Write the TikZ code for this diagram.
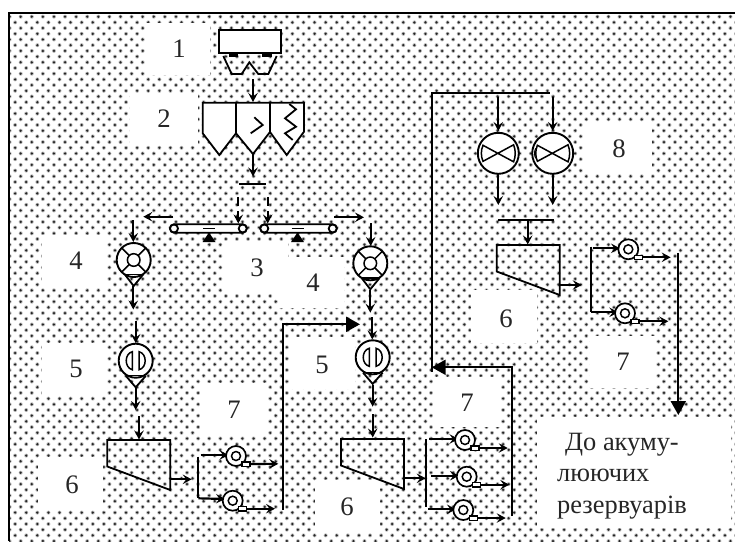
\documentclass[tikz,border=0pt]{standalone}
\usepackage{fontspec}
\setmainfont{Liberation Serif}
\usetikzlibrary{arrows.meta,patterns}
\pgfdeclarepatterninherentlycolored{dotground}{\pgfpointorigin}{\pgfqpoint{14pt}{14pt}}{\pgfqpoint{11.09pt}{11.4pt}}{%
  \pgfsetfillcolor{black!28}%
  \pgfpathcircle{\pgfqpoint{9.6pt}{11.3pt}}{2pt}\pgfpathcircle{\pgfqpoint{4.05pt}{5.6pt}}{2pt}\pgfusepath{fill}%
  \pgfsetfillcolor{black!85}%
  \pgfpathcircle{\pgfqpoint{9.6pt}{11.3pt}}{1.25pt}\pgfpathcircle{\pgfqpoint{4.05pt}{5.6pt}}{1.25pt}\pgfusepath{fill}%
}
\tikzset{
  part/.style={line width=1.8pt,draw=black,line join=miter},
  flowarrow/.style={line width=2.2pt,-{Stealth[length=9pt,width=9.5pt,inset=3.5pt]}},
  bigarrow/.style={line width=2.2pt,-{Triangle[length=14pt,width=15pt]}},
  plainline/.style={line width=2.1pt},
  dashedflow/.style={line width=1.9pt,dash pattern=on 9pt off 5pt,-{Stealth[length=9pt,width=9.5pt,inset=3.5pt]}},
  pump/.style={circle,draw=black,fill=white,line width=1.9pt,minimum size=34pt,inner sep=0pt},
  mixer/.style={circle,draw=black,fill=white,line width=1.9pt,minimum size=41pt,inner sep=0pt},
  fan/.style={circle,draw=black,fill=white,line width=1.7pt,minimum size=20pt,inner sep=0pt},
  fancore/.style={circle,draw=black,fill=white,line width=1.5pt,minimum size=9pt,inner sep=0pt},
  label/.style={font=\fontsize{26.7}{26.7}\selectfont,inner sep=0pt,text=black!85},
  paper/.style={fill=white,draw=none},
}
\newcommand{\flow}[3]{\coordinate (#1a) at (#2); \coordinate (#1b) at (#3); \draw[flowarrow] (#1a) -- (#1b);}
\newcommand{\fanunit}[3]{% name, x, y
  \node[fan] (#1) at (#2,#3) {};
  \node[fancore] (#1c) at (#2,#3) {};
  \draw[part,line width=1.4pt,fill=white] (#2+6,#3+6) rectangle (#2+14,#3+10.3);
  \coordinate (#1o) at (#2+14,#3+8);
}
\newcommand{\pumpfour}[3]{% name,x,y
  \node[pump] (#1) at (#2,#3) {};
  \draw[part] (#2-8.7,#3+14.7) -- (#2,#3+26) -- (#2+9.3,#3+14.7);
  \draw[part,line width=1.5pt] (#2-9.5,#3+14.5) -- (#2+9.5,#3+14.5);
  \foreach \a in {45,135,225,315} \draw[part,line width=1.5pt] (#2,#3) ++(\a:-6.3) -- ++(\a:-10.5);
  \node[circle,draw=black,fill=white,line width=1.5pt,minimum size=12.6pt,inner sep=0pt] (#1c) at (#2,#3) {};
}
\newcommand{\pumpfive}[3]{% name,x,y
  \node[pump] (#1) at (#2,#3) {};
  \draw[part] (#2-9.7,#3+15.3) -- (#2,#3+26.6) -- (#2+10,#3+15.3);
  \draw[part,line width=1.5pt] (#2-9.5,#3+15) -- (#2+9.5,#3+15);
  \draw[part,line width=1.5pt] (#2-3.4,#3-9) .. controls (#2-11.5,#3-7) and (#2-11.5,#3+7) .. (#2-3.4,#3+9) -- cycle;
  \draw[part,line width=1.5pt] (#2+3.4,#3-9) .. controls (#2+11.5,#3-7) and (#2+11.5,#3+7) .. (#2+3.4,#3+9) -- cycle;
}
\newcommand{\mixerunit}[3]{% name,x,y
  \node[mixer] (#1) at (#2,#3) {};
  \draw[part,line width=1.5pt] (#2-15.3,#3-8) -- (#2+15.3,#3+8.5) .. controls (#2+17.5,#3+3) and (#2+17.5,#3-3) .. (#2+15.3,#3-8.5) -- (#2-15.3,#3+8) .. controls (#2-17.5,#3+3) and (#2-17.5,#3-3) .. (#2-15.3,#3-8) -- cycle;
}
\newcommand{\trap}[2]{% x,y of top left
  \draw[part] (#1,#2) -- (#1+63,#2) -- (#1+63,#2+50) -- (#1,#2+26.5) -- cycle;
}
\begin{document}
\begin{tikzpicture}[x=1pt,y=-1pt]
\useasboundingbox (0,0) rectangle (735,541);
% dotted ground
\fill[pattern=dotground] (9,13) rectangle (735,541);
\draw[line width=2.4pt] (9,541) -- (9,13) -- (735,13);
% white label grounds
\fill[paper] (145,23) rectangle (210,75);
\fill[paper] (130,93) rectangle (198,145);
\fill[paper] (223,242) rectangle (288,293);
\fill[paper] (278,257) rectangle (344,308);
\fill[paper] (42,235) rectangle (107,287);
\fill[paper] (42,343) rectangle (107,395);
\fill[paper] (38,457) rectangle (103,510);
\fill[paper] (290,337) rectangle (355,389);
\fill[paper] (315,480) rectangle (380,532);
\fill[paper] (433,377) rectangle (500,427);
\fill[paper] (471,290) rectangle (537,343);
\fill[paper] (200,383) rectangle (267,435);
\fill[paper] (590,336) rectangle (655,388);
\fill[paper] (584,123) rectangle (652,174);
\fill[paper] (537,417) rectangle (731,528);
% labels
\node[label] (n1) at (179,49) {1};
\node[label] (n2) at (164,119) {2};
\node[label] (n3) at (257,268) {3};
\node[label] (n4r) at (313,283) {4};
\node[label] (n4l) at (76,261) {4};
\node[label] (n5l) at (76,369) {5};
\node[label] (n5r) at (322,365) {5};
\node[label] (n6l) at (72,485) {6};
\node[label] (n6m) at (347,507) {6};
\node[label] (n6t) at (506,319) {6};
\node[label] (n7l) at (234,410) {7};
\node[label] (n7m) at (467,403) {7};
\node[label] (n7r) at (623,362) {7};
\node[label] (n8) at (619,149) {8};
\node[label,anchor=north west,align=left,font=\fontsize{26.4}{31.5}\selectfont] (dest) at (557,433) {\hspace*{8pt}До акуму-\\люючих\\резервуарів};
% feeder 1
\draw[part,fill=white] (219.3,30) rectangle (280.7,53.3);
\fill (229,53) rectangle (238,57);
\fill (262,53) rectangle (272,57);
\draw[part] (223.3,56) -- (231.7,74) -- (241.7,74) -- (249.3,62.3) -- (258.3,74) -- (268.3,74) -- (276.7,56);
\flow{f1}{253,79.3}{253,102}
% bins 2
\draw[part,fill=white] (202.7,102.7) -- (304,102.7) -- (304,131.7) -- (286.7,155) -- (270,132) -- (253,154) -- (236,133.3) -- (219.3,155) -- (202.7,133.3) -- cycle;
\draw[part] (236,102.7) -- (236,133.3);
\draw[part] (270,102.7) -- (270,132);
\draw[part] (254.3,117.3) -- (262.7,125) -- (250.7,133.3);
\draw[part] (289.3,104) -- (296,109.3) -- (285,118.3) -- (296,126.7) -- (285,133.3) -- (292.7,140);
\flow{f2}{253,154}{253,176.5}
\coordinate (bara) at (239.3,184.3); \coordinate (barb) at (266,184.3);
\draw[plainline] (bara) -- (barb);
\coordinate (d1a) at (238.3,197); \coordinate (d1b) at (238.3,223.5);
\coordinate (d2a) at (267.7,197); \coordinate (d2b) at (267.7,223.5);
\draw[dashedflow] (d1a) -- (d1b);
\draw[dashedflow] (d2a) -- (d2b);
% conveyors
\draw[part,fill=white,rounded corners=4pt] (170,224.3) rectangle (246.7,232.7);
\draw[part,fill=white] (174,228.5) circle[radius=4pt];
\draw[part,fill=white] (242.7,228.5) circle[radius=4pt];
\draw[line width=1.1pt] (203,228.5) -- (215,228.5);
\fill (209,232.5) -- (215.5,242) -- (202.5,242) -- cycle;
\draw[part,fill=white,rounded corners=4pt] (260.3,224.3) rectangle (336.7,232.7);
\draw[part,fill=white] (264.3,228.5) circle[radius=4pt];
\draw[part,fill=white] (332.7,228.5) circle[radius=4pt];
\draw[line width=1.1pt] (291.5,228.5) -- (303.5,228.5);
\fill (297.5,232.5) -- (304,242) -- (291,242) -- cycle;
\flow{cl}{173.3,216.7}{143.3,216.7}
\flow{cr}{334,217.3}{364,217.3}
% left line
\flow{a1}{133.3,220}{133.3,242}
\pumpfour{pl}{133.7}{260}
\flow{a2}{133.3,286}{133.3,309.5}
\flow{a3}{135.7,320.7}{135.7,343}
\pumpfive{ql}{135.7}{360.7}
\flow{a4}{135.7,387}{135.7,410}
\flow{a5}{139,416}{139,439.5}
\trap{107.3}{440}
\flow{a6}{170.7,479.3}{191.7,479.3}
\coordinate (v1a) at (198.3,456.7); \coordinate (v1b) at (198.3,498.3);
\draw[plainline] (v1a) -- (v1b);
\flow{a7}{200.7,455}{228.5,455}
\flow{a8}{198.3,498.3}{225,499}
\fanunit{fa}{236}{456}
\fanunit{fb}{232.7}{500.7}
\flow{a9}{fao}{278.3,463.8}
\flow{a10}{fbo}{275,508.7}
\coordinate (l1) at (283.3,510); \coordinate (l2) at (283.3,324.3); \coordinate (l3) at (360,324.3);
\draw[bigarrow] (l1) -- (l2) -- (l3);
% right line
\flow{b1}{370.7,223.3}{370.7,246}
\pumpfour{pr}{370.3}{263.3}
\flow{b2}{370.3,290}{370.3,312.7}
\flow{b3}{372.3,317.3}{372.3,339.5}
\pumpfive{qr}{372.7}{357.3}
\flow{b4}{372.7,385}{372.7,406.7}
\flow{b5}{372.7,414}{372.7,437.5}
\trap{341}{439}
\flow{b6}{404.3,478.3}{425.7,478.3}
\coordinate (v2a) at (425.7,439.3); \coordinate (v2b) at (425.7,506.7);
\draw[plainline] (v2a) -- (v2b);
\flow{b7}{429.3,439}{458.5,439}
\flow{b8}{431,475.7}{459,475.7}
\flow{b9}{428.3,509.3}{456,509.3}
\fanunit{fc}{465}{440}
\fanunit{fd}{466.7}{476.7}
\fanunit{fe}{463.3}{510}
\flow{b10}{fco}{507.7,448}
\flow{b11}{fdo}{509.3,484.7}
\flow{b12}{feo}{505.7,518}
\coordinate (r1) at (511.7,516); \coordinate (r2) at (511.7,367.3); \coordinate (r3) at (431.7,367.3);
\draw[bigarrow] (r1) -- (r2) -- (r3);
\coordinate (t1) at (431.7,371.7); \coordinate (t2) at (431.7,93.3); \coordinate (t3) at (550,93.3);
\draw[plainline] (t1) -- (t2) -- (t3);
% mixers
\flow{c1}{498.3,96.7}{498.3,131}
\flow{c2}{552.7,96.7}{552.7,131}
\mixerunit{ma}{498.3}{153.3}
\mixerunit{mb}{552.7}{153.3}
\draw[line width=1.1pt] (552.7-17,153.3-5) .. controls (552.7-18.5,153.3-2) and (552.7-18.5,153.3+2) .. (552.7-17,153.3+5);
\flow{c3}{498.3,174}{498.3,205}
\flow{c4}{552.7,174}{552.7,205}
\coordinate (h1) at (498.3,220); \coordinate (h2) at (554,220);
\draw[plainline] (h1) -- (h2);
\flow{c5}{527.7,220}{527.7,244.5}
\trap{496.7}{245}
\flow{c6}{559.3,285}{581.7,285}
\coordinate (v3a) at (590.7,246.7); \coordinate (v3b) at (590.7,312.3);
\draw[plainline] (v3a) -- (v3b);
\flow{c7}{592.7,248.3}{620,248.3}
\flow{c8}{590.7,312.3}{618.3,312.3}
\fanunit{ff}{628.3}{249.3}
\fanunit{fg}{625}{313.3}
\flow{c9}{ffo}{670.7,257.3}
\flow{c10}{fgo}{668.3,321.3}
\coordinate (z1) at (678.3,253.3); \coordinate (z2) at (678.3,415);
\draw[bigarrow] (z1) -- (z2);
\end{tikzpicture}
\end{document}
